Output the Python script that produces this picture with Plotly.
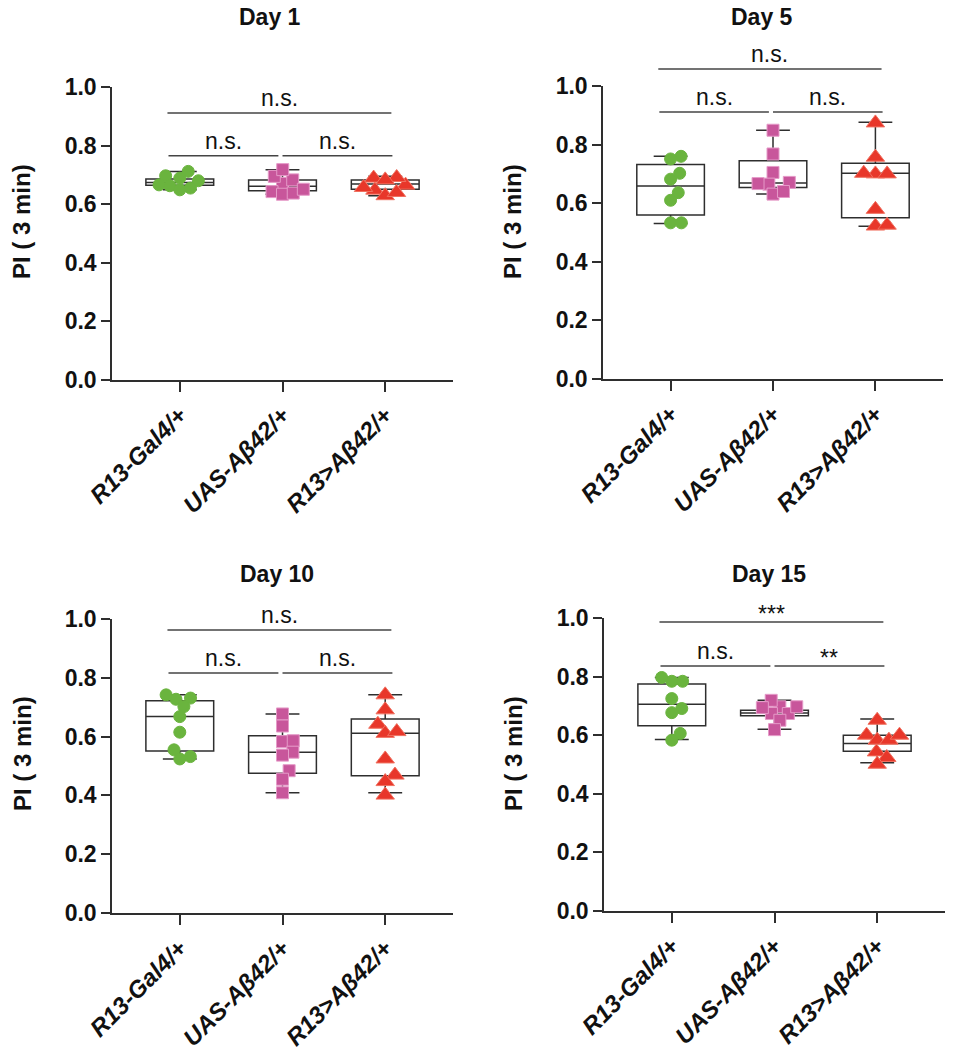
import math
import plotly.graph_objects as go

# ---- data ----
categories = ["R13-Gal4/+", "UAS-Aβ42/+", "R13>Aβ42/+"]
days = ["Day 1", "Day 5", "Day 10", "Day 15"]

# individual PI values per genotype
day1_gal4 = [0.697, 0.680, 0.663, 0.712, 0.649, 0.655, 0.666, 0.689]
day1_uas = [0.671, 0.695, 0.643, 0.683, 0.634, 0.718, 0.638, 0.651]
day1_r13ab = [0.665, 0.648, 0.691, 0.629, 0.640, 0.689, 0.657, 0.683]

day5_gal4 = [0.760, 0.751, 0.682, 0.702, 0.636, 0.610, 0.533, 0.533]
day5_uas = [0.849, 0.768, 0.705, 0.671, 0.665, 0.631, 0.640, 0.667]
day5_r13ab = [0.874, 0.757, 0.700, 0.700, 0.702, 0.579, 0.522, 0.525]

day10_gal4 = [0.731, 0.727, 0.742, 0.702, 0.668, 0.615, 0.555, 0.524, 0.532]
day10_uas = [0.677, 0.636, 0.583, 0.586, 0.547, 0.537, 0.484, 0.455, 0.409]
day10_r13ab = [0.742, 0.691, 0.642, 0.611, 0.617, 0.524, 0.469, 0.447, 0.401]

day15_gal4 = [0.784, 0.784, 0.797, 0.725, 0.691, 0.677, 0.606, 0.583]
day15_uas = [0.697, 0.674, 0.719, 0.674, 0.697, 0.694, 0.651, 0.619]
day15_r13ab = [0.651, 0.600, 0.583, 0.583, 0.600, 0.543, 0.524, 0.501]

# box statistics as drawn: [lower whisker, q1, median, q3, upper whisker]
day1_box = [[0.649, 0.665, 0.674, 0.686, 0.712],
            [0.634, 0.646, 0.661, 0.683, 0.718],
            [0.629, 0.651, 0.669, 0.683, 0.695]]
day5_box = [[0.531, 0.560, 0.659, 0.732, 0.760],
            [0.631, 0.654, 0.669, 0.745, 0.849],
            [0.521, 0.550, 0.702, 0.736, 0.876]]
day10_box = [[0.524, 0.551, 0.668, 0.722, 0.742],
             [0.409, 0.475, 0.547, 0.603, 0.677],
             [0.409, 0.467, 0.611, 0.660, 0.742]]
day15_box = [[0.585, 0.632, 0.706, 0.775, 0.797],
             [0.620, 0.666, 0.676, 0.685, 0.719],
             [0.506, 0.545, 0.572, 0.600, 0.655]]

# significance: (group a, group b, label)
day1_sig = [(0, 1, "n.s."), (1, 2, "n.s."), (0, 2, "n.s.")]
day5_sig = [(0, 1, "n.s."), (1, 2, "n.s."), (0, 2, "n.s.")]
day10_sig = [(0, 1, "n.s."), (1, 2, "n.s."), (0, 2, "n.s.")]
day15_sig = [(0, 1, "n.s."), (1, 2, "**"), (0, 2, "***")]

points = {"Day 1": [day1_gal4, day1_uas, day1_r13ab],
          "Day 5": [day5_gal4, day5_uas, day5_r13ab],
          "Day 10": [day10_gal4, day10_uas, day10_r13ab],
          "Day 15": [day15_gal4, day15_uas, day15_r13ab]}
boxes = {"Day 1": day1_box, "Day 5": day5_box, "Day 10": day10_box, "Day 15": day15_box}
sigs = {"Day 1": day1_sig, "Day 5": day5_sig, "Day 10": day10_sig, "Day 15": day15_sig}

# ---- layout (pixels) ----
W, H = 953, 1050
FONT = "Liberation Sans, Arial, sans-serif"
INK = "#2e2e2e"
panel_px = {"Day 1": (112, 453, 87, 380),
            "Day 5": (603, 943, 86, 379),
            "Day 10": (112, 453, 619, 913),
            "Day 15": (604, 945, 618, 911)}
title_px = {"Day 1": (270, 17), "Day 5": (762, 17), "Day 10": (277, 574), "Day 15": (769, 574)}
ylabel_px = {"Day 1": (22, 222), "Day 5": (513, 222), "Day 10": (22, 754), "Day 15": (513, 754)}
# heights of the lower pair bars and the long bar
bar_y = {"Day 1": (0.765, 0.911), "Day 5": (0.911, 1.058),
         "Day 10": (0.816, 0.963), "Day 15": (0.836, 0.986)}
XR = [-0.66, 2.66]
colors = ["#6ab43e", "#c8569b", "#e8372a"]
edge = ["#6ab43e", "#e59ac8", "#f0705f"]
symbols = ["circle", "square", "triangle-up"]
msize = [12, 12, 16]


def swarm(values, diam, xscale, yscale):
    # greedy beeswarm: each point as close to the centre as possible without overlap
    order = sorted(range(len(values)), key=lambda i: values[i])
    placed = []
    offs = [0.0] * len(values)
    d = diam * 0.9
    for i in order:
        y = values[i] * yscale
        cands = [0.0]
        for px, py in placed:
            dy = y - py
            if abs(dy) < d:
                dx = math.sqrt(d * d - dy * dy)
                cands += [px + dx, px - dx]
        cands.sort(key=abs)
        for c in cands:
            if all((c - px) ** 2 + (y - py) ** 2 >= d * d - 1e-6 for px, py in placed):
                break
        placed.append((c, y))
        offs[i] = c / xscale
    return offs


fig = go.Figure()
annotations = []
shapes = []

for k, day in enumerate(days, start=1):
    x0, x1, y0, y1 = panel_px[day]
    xa, ya = ("x", "y") if k == 1 else (f"x{k}", f"y{k}")
    xscale = (x1 - x0) / (XR[1] - XR[0])
    yscale = (y1 - y0)

    for g in range(3):
        lo, q1, med, q3, hi = boxes[day][g]
        fig.add_trace(go.Box(x=[g], q1=[q1], median=[med], q3=[q3],
                             lowerfence=[lo], upperfence=[hi],
                             width=0.66, whiskerwidth=0.5,
                             line=dict(color=INK, width=1.5),
                             fillcolor="rgba(255,255,255,0)",
                             boxpoints=False, hoverinfo="skip",
                             showlegend=False, xaxis=xa, yaxis=ya))
    for g in range(3):
        vals = points[day][g]
        offs = swarm(vals, msize[g] if g < 2 else 13, xscale, yscale)
        fig.add_trace(go.Scatter(x=[g + o for o in offs], y=vals, mode="markers",
                                 marker=dict(symbol=symbols[g], size=msize[g], color=colors[g],
                                             line=dict(color=edge[g], width=1)),
                                 cliponaxis=False, showlegend=False, xaxis=xa, yaxis=ya))

    ax = dict(domain=[x0 / W, x1 / W], range=XR, tickvals=[0, 1, 2], ticktext=categories,
              tickangle=-45, ticks="outside", ticklen=10, tickwidth=1.5, tickcolor=INK,
              showline=True, linecolor=INK, linewidth=1.5, showgrid=False, zeroline=False,
              tickfont=dict(family=FONT, size=24, color="#111111", weight="bold", style="italic"),
              anchor=ya, fixedrange=True)
    ay = dict(domain=[1 - y1 / H, 1 - y0 / H], range=[0, 1], tickvals=[0, 0.2, 0.4, 0.6, 0.8, 1.0],
              tickformat=".1f", ticks="outside", ticklen=9, tickwidth=1.5, tickcolor=INK,
              showline=True, linecolor=INK, linewidth=1.5, showgrid=False, zeroline=False,
              tickfont=dict(family=FONT, size=23, color="#111111", weight="bold"),
              anchor=xa, fixedrange=True)
    fig.update_layout(**{("xaxis" if k == 1 else f"xaxis{k}"): ax,
                         ("yaxis" if k == 1 else f"yaxis{k}"): ay})

    # significance bars
    low, top = bar_y[day]
    for a, b, lab in sigs[day]:
        if b - a == 2:
            xs0, xs1, yy = a - 0.12, b + 0.06, top
        elif a == 0:
            xs0, xs1, yy = a - 0.11, b - 0.04, low
        else:
            xs0, xs1, yy = a, b + 0.07, low
        shapes.append(dict(type="line", xref=xa, yref=f"{ya} domain", x0=xs0, x1=xs1, y0=yy, y1=yy,
                           line=dict(color="#444444", width=1.5)))
        annotations.append(dict(xref=xa, yref=f"{ya} domain", x=(xs0 + xs1) / 2, y=yy,
                                yshift=15 if lab == "n.s." else 8, yanchor="middle",
                                text=lab, showarrow=False,
                                font=dict(family=FONT, size=23, color="#111111")))

    tx, ty = title_px[day]
    annotations.append(dict(xref="paper", yref="paper", x=tx / W, y=1 - ty / H, text=day,
                            showarrow=False, xanchor="center", yanchor="middle",
                            font=dict(family=FONT, size=23, color="#111111", weight="bold")))
    lx, ly = ylabel_px[day]
    annotations.append(dict(xref="paper", yref="paper", x=lx / W, y=1 - ly / H, text="PI ( 3 min)",
                            textangle=-90, showarrow=False, xanchor="center", yanchor="middle",
                            font=dict(family=FONT, size=24, color="#111111", weight="bold")))

fig.update_layout(width=W, height=H, margin=dict(l=0, r=0, t=0, b=0, autoexpand=False),
                  paper_bgcolor="white", plot_bgcolor="white",
                  annotations=annotations, shapes=shapes, showlegend=False)

fig.write_html("out.html", config={"displayModeBar": False},
               post_script="document.body.style.margin='0';document.body.style.overflow='hidden';")
